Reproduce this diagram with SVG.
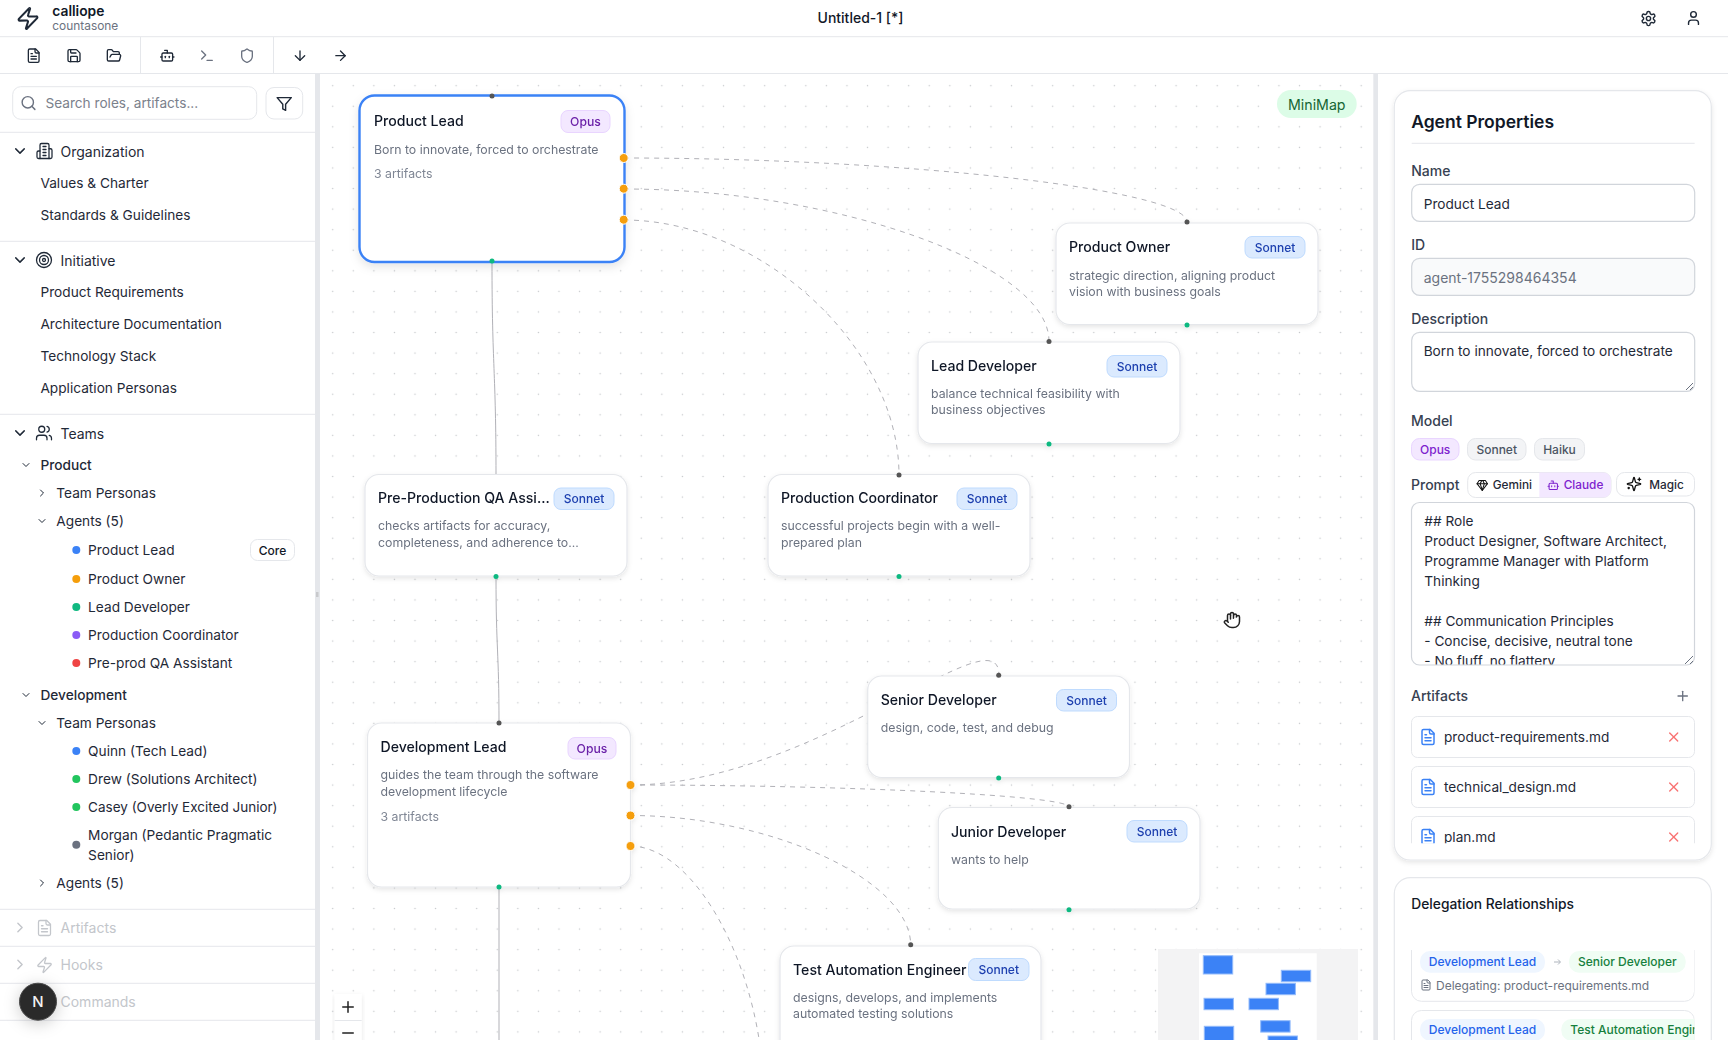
<svg xmlns="http://www.w3.org/2000/svg" width="1728" height="1040" viewBox="0 0 1728 1040">
<style>
text{font-family:Inter,"Liberation Sans",sans-serif;fill:#111827;font-size:13.65px}
.ic{fill:none;stroke:#1f2937;stroke-width:2;stroke-linecap:round;stroke-linejoin:round}
.ln{stroke:#e5e7eb;stroke-width:1;fill:none}
.nb{fill:#fff;stroke:#e5e7eb;stroke-width:1.2}
.sel{fill:#fff;stroke:#3b82f6;stroke-width:2.4}
.tt{font-size:14.1px;font-weight:500;fill:#111827}
.ds{font-size:12.3px;fill:#6b7280}
.ar{font-size:12.3px;fill:#7f8694}
.bs{fill:#dbeafe;stroke:#bfdbfe}
.bo{fill:#f3e8ff;stroke:#e9d5ff}
.ts{font-size:12px;font-weight:500;fill:#1e40af;text-anchor:middle}
.to{font-size:12.2px;font-weight:500;fill:#6b21a8;text-anchor:middle}
.pt{fill:#555}
.pb{fill:#10b981}
.po{fill:#f59e0b;stroke:#fff;stroke-width:1}
.e{fill:none;stroke:#b1b1b7;stroke-width:1}
.d{stroke-dasharray:5 5}
.si{font-size:13.7px;fill:#1f2937}
.hd{font-size:14px;fill:#1f2937}
.fa{font-size:14px;fill:#c3c6cb}
.lb{font-size:14px;font-weight:500;fill:#374151}
.inp{fill:#fff;stroke:#d1d5db;stroke-width:1.2}
.cd{fill:#fff;stroke:#e5e7eb;stroke-width:1.2}
.ro{fill:#fff;stroke:#e5e7eb;stroke-width:1}
.mm{fill:#3b82f6;stroke:#93bbfb;stroke-width:1}
.dl{font-size:12px;font-weight:500;fill:#2563eb;text-anchor:middle}
.dg{font-size:12px;font-weight:500;fill:#16803d}
.tb{font-size:13.65px;fill:#1f2937}
</style>
<defs>
<pattern id="dots" patternUnits="userSpaceOnUse" x="343" y="75.4" width="20.57" height="20.57"><circle cx="10.285" cy="10.285" r="0.75" fill="#c6c8cb"/></pattern>
<filter id="sh" x="-10%" y="-10%" width="120%" height="125%"><feDropShadow dx="0" dy="2" stdDeviation="2.5" flood-color="#000" flood-opacity="0.1"/></filter>
<filter id="sh2" x="-10%" y="-10%" width="120%" height="120%"><feDropShadow dx="0" dy="4" stdDeviation="5" flood-color="#000" flood-opacity="0.1"/></filter>
<filter id="sh3" x="-60%" y="-60%" width="220%" height="220%"><feDropShadow dx="0" dy="3" stdDeviation="8" flood-color="#000" flood-opacity="0.2"/></filter>
<clipPath id="cTa"><rect x="1412" y="503" width="282" height="161.5" rx="8"/></clipPath>
<clipPath id="cAr"><rect x="1405" y="712" width="296" height="131.3"/></clipPath>
<clipPath id="cDl"><rect x="1405" y="950" width="289.5" height="90"/></clipPath>
<clipPath id="cMm"><rect x="1158" y="949" width="200" height="91"/></clipPath>
<symbol id="i-file" viewBox="0 0 24 24"><path d="M15 2H6a2 2 0 0 0-2 2v16a2 2 0 0 0 2 2h12a2 2 0 0 0 2-2V7Z"/><path d="M14 2v4a2 2 0 0 0 2 2h4"/><path d="M10 9H8"/><path d="M16 13H8"/><path d="M16 17H8"/></symbol>
<symbol id="i-save" viewBox="0 0 24 24"><path d="M15.2 3a2 2 0 0 1 1.4.6l3.8 3.8a2 2 0 0 1 .6 1.4V19a2 2 0 0 1-2 2H5a2 2 0 0 1-2-2V5a2 2 0 0 1 2-2z"/><path d="M17 21v-7a1 1 0 0 0-1-1H8a1 1 0 0 0-1 1v7"/><path d="M7 3v4a1 1 0 0 0 1 1h7"/></symbol>
<symbol id="i-open" viewBox="0 0 24 24"><path d="m6 14 1.5-2.9A2 2 0 0 1 9.24 10H20a2 2 0 0 1 1.94 2.5l-1.54 6a2 2 0 0 1-1.95 1.5H4a2 2 0 0 1-2-2V5a2 2 0 0 1 2-2h3.9a2 2 0 0 1 1.69.9l.81 1.2a2 2 0 0 0 1.67.9H18a2 2 0 0 1 2 2v2"/></symbol>
<symbol id="i-bot" viewBox="0 0 24 24"><path d="M12 8V4H8"/><rect x="4" y="8" width="16" height="12" rx="2"/><path d="M2 14h2"/><path d="M20 14h2"/><path d="M15 13v2"/><path d="M9 13v2"/></symbol>
<symbol id="i-term" viewBox="0 0 24 24"><path d="M4 17l6-6-6-6"/><path d="M12 19h8"/></symbol>
<symbol id="i-shield" viewBox="0 0 24 24"><path d="M20 13c0 5-3.5 7.5-7.66 8.95a1 1 0 0 1-.67-.01C7.5 20.5 4 18 4 13V6a1 1 0 0 1 1-1c2 0 4.5-1.2 6.24-2.72a1.17 1.17 0 0 1 1.52 0C14.51 3.81 17 5 19 5a1 1 0 0 1 1 1z"/></symbol>
<symbol id="i-down" viewBox="0 0 24 24"><path d="M12 5v14"/><path d="m19 12-7 7-7-7"/></symbol>
<symbol id="i-right" viewBox="0 0 24 24"><path d="M5 12h14"/><path d="m12 5 7 7-7 7"/></symbol>
<symbol id="i-search" viewBox="0 0 24 24"><circle cx="11" cy="11" r="8"/><path d="m21 21-4.3-4.3"/></symbol>
<symbol id="i-filter" viewBox="0 0 24 24"><path d="M22 3H2l8 9.46V19l4 2v-8.54L22 3z"/></symbol>
<symbol id="i-zap" viewBox="0 0 24 24"><path d="M4 14a1 1 0 0 1-.78-1.63l9.9-10.2a.5.5 0 0 1 .86.46l-1.92 6.02A1 1 0 0 0 13 10h7a1 1 0 0 1 .78 1.63l-9.9 10.2a.5.5 0 0 1-.86-.46l1.92-6.02A1 1 0 0 0 11 14z"/></symbol>
<symbol id="i-gear" viewBox="0 0 24 24"><path d="M12.22 2h-.44a2 2 0 0 0-2 2v.18a2 2 0 0 1-1 1.73l-.43.25a2 2 0 0 1-2 0l-.15-.08a2 2 0 0 0-2.73.73l-.22.38a2 2 0 0 0 .73 2.73l.15.1a2 2 0 0 1 1 1.72v.51a2 2 0 0 1-1 1.74l-.15.09a2 2 0 0 0-.73 2.73l.22.38a2 2 0 0 0 2.73.73l.15-.08a2 2 0 0 1 2 0l.43.25a2 2 0 0 1 1 1.73V20a2 2 0 0 0 2 2h.44a2 2 0 0 0 2-2v-.18a2 2 0 0 1 1-1.73l.43-.25a2 2 0 0 1 2 0l.15.08a2 2 0 0 0 2.73-.73l.22-.39a2 2 0 0 0-.73-2.73l-.15-.08a2 2 0 0 1-1-1.74v-.5a2 2 0 0 1 1-1.74l.15-.09a2 2 0 0 0 .73-2.73l-.22-.38a2 2 0 0 0-2.73-.73l-.15.08a2 2 0 0 1-2 0l-.43-.25a2 2 0 0 1-1-1.73V4a2 2 0 0 0-2-2z"/><circle cx="12" cy="12" r="3"/></symbol>
<symbol id="i-user" viewBox="0 0 24 24"><path d="M19 21v-2a4 4 0 0 0-4-4H9a4 4 0 0 0-4 4v2"/><circle cx="12" cy="7" r="4"/></symbol>
<symbol id="i-users" viewBox="0 0 24 24"><path d="M16 21v-2a4 4 0 0 0-4-4H6a4 4 0 0 0-4 4v2"/><circle cx="9" cy="7" r="4"/><path d="M22 21v-2a4 4 0 0 0-3-3.87"/><path d="M16 3.13a4 4 0 0 1 0 7.75"/></symbol>
<symbol id="i-bld" viewBox="0 0 24 24"><path d="M6 22V4a2 2 0 0 1 2-2h8a2 2 0 0 1 2 2v18Z"/><path d="M6 12H4a2 2 0 0 0-2 2v6a2 2 0 0 0 2 2h2"/><path d="M18 9h2a2 2 0 0 1 2 2v9a2 2 0 0 1-2 2h-2"/><path d="M10 6h4"/><path d="M10 10h4"/><path d="M10 14h4"/><path d="M10 18h4"/></symbol>
<symbol id="i-tgt" viewBox="0 0 24 24"><circle cx="12" cy="12" r="10"/><circle cx="12" cy="12" r="6"/><circle cx="12" cy="12" r="2"/></symbol>
<symbol id="i-cd" viewBox="0 0 24 24"><path d="m6 9 6 6 6-6"/></symbol>
<symbol id="i-cr" viewBox="0 0 24 24"><path d="m9 18 6-6-6-6"/></symbol>
<symbol id="i-plus" viewBox="0 0 24 24"><path d="M5 12h14"/><path d="M12 5v14"/></symbol>
<symbol id="i-minus" viewBox="0 0 24 24"><path d="M5 12h14"/></symbol>
<symbol id="i-x" viewBox="0 0 24 24"><path d="M18 6 6 18"/><path d="m6 6 12 12"/></symbol>
<symbol id="i-gem" viewBox="0 0 24 24"><path d="M6 3h12l4 6-10 13L2 9Z"/><path d="M11 3 8 9l4 13 4-13-3-6"/><path d="M2 9h20"/></symbol>
<symbol id="i-spark" viewBox="0 0 24 24"><path d="M9.937 15.5A2 2 0 0 0 8.5 14.063l-6.135-1.582a.5.5 0 0 1 0-.962L8.5 9.936A2 2 0 0 0 9.937 8.5l1.582-6.135a.5.5 0 0 1 .963 0L14.063 8.5A2 2 0 0 0 15.5 9.937l6.135 1.581a.5.5 0 0 1 0 .964L15.5 14.063a2 2 0 0 0-1.437 1.437l-1.582 6.135a.5.5 0 0 1-.963 0z"/><path d="M20 3v4"/><path d="M22 5h-4"/><path d="M4 17v2"/><path d="M5 18H3"/></symbol>
<symbol id="i-hand" viewBox="0 0 24 24"><path d="M18 11V6a2 2 0 0 0-2-2a2 2 0 0 0-2 2"/><path d="M14 10V4a2 2 0 0 0-2-2a2 2 0 0 0-2 2v2"/><path d="M10 10.5V6a2 2 0 0 0-2-2a2 2 0 0 0-2 2v8"/><path d="M18 8a2 2 0 1 1 4 0v6a8 8 0 0 1-8 8h-2c-2.8 0-4.5-.86-5.99-2.34l-3.6-3.6a2 2 0 0 1 2.83-2.82L7 15"/></symbol>
</defs>

<rect width="1728" height="1040" fill="#fff"/>

<g id="canvas">
<rect x="320" y="74" width="1053" height="966" fill="#fff"/>
<rect x="320" y="74" width="1053" height="966" fill="url(#dots)"/>
</g>

<g id="connectors">
<path class="e d" d="M624,158 C905.5,158 1187,190 1187,222"/>
<path class="e d" d="M624,189 C836.5,189 1049,265 1049,341"/>
<path class="e d" d="M624,220 C761,220 899,347 899,475"/>
<path class="e" d="M492,262 C492,368 496,369 496,475"/>
<path class="e" d="M496,576.5 C496,650 499,650 499,723"/>
<path class="e" d="M499,887 L499,1040"/>
<path class="e d" d="M630,785 C814.5,785 999,610 999,675"/>
<path class="e d" d="M630,785 C849.5,785 1069,795.7 1069,807"/>
<path class="e d" d="M630,815.5 C770.5,815.5 910.7,880 910.7,945"/>
<path class="e d" d="M630,846 C697,846 764,973 764,1100"/>
</g>

<g id="node-product-lead" filter="url(#sh2)">
<rect class="sel" x="359.5" y="95.5" width="265" height="166.5" rx="15"/>
<text class="tt" x="374" y="126">Product Lead</text>
<rect class="bo" x="561" y="110.5" width="49" height="22" rx="7"/><text class="to" x="585.5" y="126">Opus</text>
<text class="ds" x="374" y="153.5">Born to innovate, forced to orchestrate</text>
<text class="ar" x="374" y="178">3 artifacts</text>
<circle class="pt" cx="492" cy="96" r="2.5"/><circle class="pb" cx="492" cy="261" r="2.5"/>
<circle class="po" cx="623.7" cy="158" r="4.5"/><circle class="po" cx="623.7" cy="188.7" r="4.5"/><circle class="po" cx="623.7" cy="219.7" r="4.5"/>
</g>
<g id="node-product-owner" filter="url(#sh)">
<rect class="nb" x="1056" y="223" width="262" height="101.5" rx="14"/>
<text class="tt" x="1069" y="252">Product Owner</text>
<rect class="bs" x="1245" y="236.5" width="60" height="21.5" rx="7"/><text class="ts" x="1275" y="251.5">Sonnet</text>
<text class="ds" x="1069" y="280">strategic direction, aligning product</text>
<text class="ds" x="1069" y="296">vision with business goals</text>
<circle class="pt" cx="1187" cy="222" r="2.5"/><circle class="pb" cx="1187" cy="325" r="2.5"/>
</g>
<g id="node-lead-developer" filter="url(#sh)">
<rect class="nb" x="918" y="342" width="262" height="101.5" rx="14"/>
<text class="tt" x="931" y="371">Lead Developer</text>
<rect class="bs" x="1107" y="355.5" width="60" height="21.5" rx="7"/><text class="ts" x="1137" y="370.5">Sonnet</text>
<text class="ds" x="931" y="398">balance technical feasibility with</text>
<text class="ds" x="931" y="414.3">business objectives</text>
<circle class="pt" cx="1049" cy="341.5" r="2.5"/><circle class="pb" cx="1049" cy="444" r="2.5"/>
</g>
<g id="node-pre-production" filter="url(#sh)">
<rect class="nb" x="365" y="474.5" width="262" height="101.5" rx="14"/>
<text class="tt" x="378" y="503">Pre-Production QA Assi...</text>
<rect class="bs" x="554" y="488" width="60" height="21.5" rx="7"/><text class="ts" x="584" y="503">Sonnet</text>
<text class="ds" x="378" y="530">checks artifacts for accuracy,</text>
<text class="ds" x="378" y="546.5">completeness, and adherence to...</text>
<circle class="pb" cx="496" cy="576.5" r="2.5"/>
</g>
<g id="node-production-coordinator" filter="url(#sh)">
<rect class="nb" x="768" y="474.5" width="262" height="101.5" rx="14"/>
<text class="tt" x="781" y="503">Production Coordinator</text>
<rect class="bs" x="957" y="488" width="60" height="21.5" rx="7"/><text class="ts" x="987" y="503">Sonnet</text>
<text class="ds" x="781" y="530">successful projects begin with a well-</text>
<text class="ds" x="781" y="546.5">prepared plan</text>
<circle class="pt" cx="899" cy="475" r="2.5"/><circle class="pb" cx="899" cy="576.5" r="2.5"/>
</g>
<g id="node-senior-developer" filter="url(#sh)">
<rect class="nb" x="867.7" y="676" width="261.8" height="101.5" rx="14"/>
<text class="tt" x="880.7" y="705.3">Senior Developer</text>
<rect class="bs" x="1056.5" y="689.5" width="60" height="21.5" rx="7"/><text class="ts" x="1086.5" y="704.5">Sonnet</text>
<text class="ds" x="880.7" y="731.7">design, code, test, and debug</text>
<circle class="pt" cx="998.7" cy="675.3" r="2.5"/><circle class="pb" cx="998.7" cy="778" r="2.5"/>
</g>
<g id="node-junior-developer" filter="url(#sh)">
<rect class="nb" x="938.3" y="807.5" width="261.7" height="101.5" rx="14"/>
<text class="tt" x="951" y="836.5">Junior Developer</text>
<rect class="bs" x="1127" y="820.5" width="60" height="21.5" rx="7"/><text class="ts" x="1157" y="836">Sonnet</text>
<text class="ds" x="951" y="864">wants to help</text>
<circle class="pt" cx="1069" cy="806.7" r="2.5"/><circle class="pb" cx="1069" cy="909.7" r="2.5"/>
</g>
<g id="node-development-lead" filter="url(#sh)">
<rect class="nb" x="367.5" y="723" width="263" height="164" rx="14"/>
<text class="tt" x="380.5" y="752">Development Lead</text>
<rect class="bo" x="568" y="737.5" width="48" height="21.5" rx="7"/><text class="to" x="592" y="752.5">Opus</text>
<text class="ds" x="380.5" y="779">guides the team through the software</text>
<text class="ds" x="380.5" y="795.5">development lifecycle</text>
<text class="ar" x="380.5" y="820.5">3 artifacts</text>
<circle class="pt" cx="499" cy="723" r="2.5"/><circle class="pb" cx="499" cy="887" r="2.5"/>
<circle class="po" cx="630.5" cy="785" r="4.5"/><circle class="po" cx="630.5" cy="815.5" r="4.5"/><circle class="po" cx="630.5" cy="846" r="4.5"/>
</g>
<g id="node-test-automation" filter="url(#sh)">
<rect class="nb" x="780" y="946" width="261" height="120" rx="14"/>
<text class="tt" x="793" y="974.5">Test Automation Engineer</text>
<rect class="bs" x="968.5" y="958.5" width="60.5" height="22" rx="7"/><text class="ts" x="998.7" y="974">Sonnet</text>
<text class="ds" x="793" y="1002">designs, develops, and implements</text>
<text class="ds" x="793" y="1018">automated testing solutions</text>
<circle class="pt" cx="910.7" cy="944.7" r="2.5"/>
</g>

<g id="minimap-badge">
<rect x="1277" y="90" width="79.7" height="28" rx="14" fill="#dcfce7"/>
<text x="1316.8" y="110" text-anchor="middle" style="fill:#166534;font-size:14.2px">MiniMap</text>
</g>
<g id="minimap">
<rect x="1158" y="949" width="200" height="91" fill="#f3f3f4"/>
<rect x="1199" y="953.3" width="117.7" height="87" fill="#fff"/>
<g clip-path="url(#cMm)">
<rect class="mm" x="1203.3" y="955.7" width="29.4" height="18.3"/>
<rect class="mm" x="1281.3" y="970.3" width="29.4" height="11.4"/>
<rect class="mm" x="1266" y="983.3" width="29.4" height="11.4"/>
<rect class="mm" x="1204" y="998.3" width="29.4" height="11.4"/>
<rect class="mm" x="1249" y="998.3" width="29.4" height="11.4"/>
<rect class="mm" x="1260.7" y="1020.7" width="29.4" height="11.4"/>
<rect class="mm" x="1204.3" y="1026.3" width="29.4" height="20"/>
<rect class="mm" x="1268" y="1036" width="29.4" height="11.4"/>
</g>
</g>
<g id="zoom-controls">
<rect x="334.7" y="994" width="27" height="60" fill="#fff" filter="url(#sh)"/>
<line class="ln" x1="334.7" y1="1020.5" x2="361.7" y2="1020.5"/>
<use href="#i-plus" class="ic" x="339" y="998" width="18" height="18" style="stroke:#222"/>
<use href="#i-minus" class="ic" x="339" y="1024" width="18" height="18" style="stroke:#222"/>
</g>
<use href="#i-hand" id="cursor" x="1223" y="611" width="18" height="18" style="fill:#fff;stroke:#222;stroke-width:2;stroke-linecap:round;stroke-linejoin:round"/>

<g id="header">
<rect x="0" y="0" width="1728" height="73.5" fill="#fff"/>
<line class="ln" x1="0" y1="36.7" x2="1728" y2="36.7"/>
<line class="ln" x1="0" y1="73.5" x2="1728" y2="73.5"/>
<use href="#i-zap" class="ic" x="15.5" y="6" width="25" height="25"/>
<text x="52.3" y="15.5" style="font-weight:600;font-size:13.8px">calliope</text>
<text x="52.3" y="29.8" style="font-size:11.9px;fill:#6b7280">countasone</text>
<text x="860.5" y="23" text-anchor="middle" style="font-weight:500;font-size:14px">Untitled-1 [*]</text>
<use href="#i-gear" class="ic" x="1640" y="10" width="17" height="17"/>
<use href="#i-user" class="ic" x="1685" y="9.5" width="17" height="17"/>
<use href="#i-file" class="ic" x="25.7" y="47.7" width="16" height="16"/>
<use href="#i-save" class="ic" x="66" y="47.7" width="16" height="16"/>
<use href="#i-open" class="ic" x="106" y="47.7" width="16" height="16"/>
<line class="ln" x1="140.5" y1="37" x2="140.5" y2="73"/>
<use href="#i-bot" class="ic" x="159.3" y="47.7" width="16" height="16"/>
<use href="#i-term" class="ic" x="199" y="47.7" width="16" height="16" style="stroke:#6b7280"/>
<use href="#i-shield" class="ic" x="239" y="47.7" width="16" height="16" style="stroke:#6b7280"/>
<line class="ln" x1="273.5" y1="37" x2="273.5" y2="73"/>
<use href="#i-down" class="ic" x="292" y="47.7" width="16" height="16"/>
<use href="#i-right" class="ic" x="332.5" y="47.7" width="16" height="16"/>
</g>

<g id="sidebar">
<rect x="0" y="74" width="315" height="966" fill="#fff"/>
<rect x="315" y="74" width="5" height="966" fill="#e5e7eb"/>
<rect x="316" y="592" width="2.5" height="5" fill="#c8c9cc"/>
<rect x="12.7" y="86.7" width="244" height="32.6" rx="8" fill="#fff" stroke="#e5e7eb"/>
<use href="#i-search" class="ic" x="20" y="94.5" width="17" height="17" style="stroke:#6b7280"/>
<text x="45.4" y="108" style="fill:#7b818c">Search roles, artifacts...</text>
<rect x="266" y="87.5" width="36.7" height="31.5" rx="8" fill="#fff" stroke="#e5e7eb"/>
<use href="#i-filter" class="ic" x="275.7" y="95.5" width="17" height="17"/>
<line class="ln" x1="0" y1="132.3" x2="315" y2="132.3"/>
<use href="#i-cd" class="ic" x="11.5" y="142.5" width="17" height="17"/>
<use href="#i-bld" class="ic" x="35.5" y="142" width="18" height="18" style="stroke-width:1.7"/>
<text class="hd" x="60.5" y="156.5">Organization</text>
<text class="si" x="40.4" y="188">Values &amp; Charter</text>
<text class="si" x="40.4" y="220">Standards &amp; Guidelines</text>
<line class="ln" x1="0" y1="241.3" x2="315" y2="241.3"/>
<use href="#i-cd" class="ic" x="11.5" y="251.5" width="17" height="17"/>
<use href="#i-tgt" class="ic" x="35" y="251" width="18" height="18" style="stroke-width:1.7"/>
<text class="hd" x="60.5" y="265.5">Initiative</text>
<text class="si" x="40.4" y="297">Product Requirements</text>
<text class="si" x="40.4" y="329">Architecture Documentation</text>
<text class="si" x="40.4" y="361">Technology Stack</text>
<text class="si" x="40.4" y="393">Application Personas</text>
<line class="ln" x1="0" y1="414.3" x2="315" y2="414.3"/>
<use href="#i-cd" class="ic" x="11.5" y="424.5" width="17" height="17"/>
<use href="#i-users" class="ic" x="35" y="424" width="18" height="18" style="stroke-width:1.7"/>
<text class="hd" x="60.5" y="438.5">Teams</text>
<use href="#i-cd" class="ic" x="20" y="459" width="12" height="12"/>
<text class="si" x="40.4" y="470" style="font-weight:500">Product</text>
<use href="#i-cr" class="ic" x="36" y="487" width="12" height="12"/>
<text class="si" x="56.3" y="498">Team Personas</text>
<use href="#i-cd" class="ic" x="36" y="515" width="12" height="12"/>
<text class="si" x="56.3" y="526">Agents (5)</text>
<circle cx="76.3" cy="550" r="4" fill="#3b82f6"/><text class="si" x="88.1" y="555">Product Lead</text>
<rect x="250.5" y="539.5" width="44" height="21" rx="7" fill="#fff" stroke="#e5e7eb"/><text x="272.5" y="554.5" text-anchor="middle" style="font-size:12px;font-weight:500">Core</text>
<circle cx="76.3" cy="579" r="4" fill="#f59e0b"/><text class="si" x="88.1" y="584">Product Owner</text>
<circle cx="76.3" cy="607" r="4" fill="#10b981"/><text class="si" x="88.1" y="612">Lead Developer</text>
<circle cx="76.3" cy="635" r="4" fill="#8b5cf6"/><text class="si" x="88.1" y="640">Production Coordinator</text>
<circle cx="76.3" cy="663" r="4" fill="#ef4444"/><text class="si" x="88.1" y="668">Pre-prod QA Assistant</text>
<use href="#i-cd" class="ic" x="20" y="689" width="12" height="12"/>
<text class="si" x="40.4" y="700" style="font-weight:500">Development</text>
<use href="#i-cd" class="ic" x="36" y="717" width="12" height="12"/>
<text class="si" x="56.3" y="728">Team Personas</text>
<circle cx="76.3" cy="751" r="4" fill="#3b82f6"/><text class="si" x="88.1" y="756">Quinn (Tech Lead)</text>
<circle cx="76.3" cy="779" r="4" fill="#22c55e"/><text class="si" x="88.1" y="784">Drew (Solutions Architect)</text>
<circle cx="76.3" cy="807" r="4" fill="#22c55e"/><text class="si" x="88.1" y="812" style="font-size:13.5px">Casey (Overly Excited Junior)</text>
<circle cx="76.3" cy="844.7" r="4" fill="#6b7280"/><text class="si" x="88.1" y="840">Morgan (Pedantic Pragmatic</text><text class="si" x="88.1" y="860">Senior)</text>
<use href="#i-cr" class="ic" x="36" y="877" width="12" height="12"/>
<text class="si" x="56.3" y="888">Agents (5)</text>
<line class="ln" x1="0" y1="909.3" x2="315" y2="909.3"/>
<use href="#i-cr" class="ic" x="11.5" y="919" width="17" height="17" style="stroke:#c3c6cb"/>
<use href="#i-file" class="ic" x="35.5" y="919" width="18" height="18" style="stroke:#c3c6cb;stroke-width:1.7"/>
<text class="fa" x="60.5" y="933">Artifacts</text>
<line class="ln" x1="0" y1="946.3" x2="315" y2="946.3"/>
<use href="#i-cr" class="ic" x="11.5" y="956" width="17" height="17" style="stroke:#c3c6cb"/>
<use href="#i-zap" class="ic" x="35.5" y="956" width="18" height="18" style="stroke:#c3c6cb;stroke-width:1.7"/>
<text class="fa" x="60.5" y="970">Hooks</text>
<line class="ln" x1="0" y1="983.3" x2="315" y2="983.3"/>
<text class="fa" x="60.5" y="1007">Commands</text>
<line class="ln" x1="0" y1="1020.3" x2="315" y2="1020.3"/>
</g>
<g id="next-indicator">
<circle cx="38" cy="1001.7" r="18.5" fill="#2b2b2b" stroke="#4a4a4a" filter="url(#sh3)"/>
<text x="38" y="1007" text-anchor="middle" style="font-size:15px;font-weight:500;fill:#f2f2f2">N</text>
</g>

<g id="properties">
<rect x="1373.3" y="74" width="4.7" height="966" fill="#e5e7eb"/>
<rect x="1378" y="74" width="350" height="966" fill="#fff"/>
<g id="agent-card">
<rect class="cd" x="1394.3" y="90.7" width="317" height="769.3" rx="16" filter="url(#sh)"/>
<text x="1411.2" y="127.7" style="font-size:17.5px;font-weight:600">Agent Properties</text>
<line class="ln" x1="1411.7" y1="143.3" x2="1694.7" y2="143.3"/>
<text class="lb" x="1411.2" y="175.5">Name</text>
<rect class="inp" x="1411.7" y="184.3" width="283" height="37" rx="8"/>
<text class="tb" x="1423.7" y="208.7">Product Lead</text>
<text class="lb" x="1411.2" y="249.8">ID</text>
<rect class="inp" x="1411.7" y="258.3" width="283" height="37" rx="8" style="fill:#f9fafb"/>
<text x="1423.7" y="282.7" style="fill:#6b7280;font-size:14px">agent-1755298464354</text>
<text class="lb" x="1411.2" y="323.8">Description</text>
<rect class="inp" x="1411.7" y="332.3" width="283" height="59" rx="8"/>
<text class="tb" x="1423.7" y="356.4">Born to innovate, forced to orchestrate</text>
<path d="M1686,390 l7,-7 M1690,390 l3,-3" stroke="#6b7280" stroke-width="1" fill="none"/>
<text class="lb" x="1411" y="425.5">Model</text>
<rect x="1411.5" y="438.5" width="47.5" height="21.5" rx="8" fill="#f3e8ff" stroke="#e9d5ff"/><text x="1435.2" y="453.5" text-anchor="middle" style="font-size:12px;font-weight:500;fill:#7e22ce">Opus</text>
<rect x="1467.5" y="438.5" width="58.5" height="21.5" rx="8" fill="#f3f4f6" stroke="#e5e7eb"/><text x="1496.7" y="453.5" text-anchor="middle" style="font-size:12px;font-weight:500;fill:#4b5563">Sonnet</text>
<rect x="1534.5" y="438.5" width="50" height="21.5" rx="8" fill="#f3f4f6" stroke="#e5e7eb"/><text x="1559.5" y="453.5" text-anchor="middle" style="font-size:12px;font-weight:500;fill:#4b5563">Haiku</text>
<text class="lb" x="1411" y="490.3">Prompt</text>
<rect x="1467.7" y="472.5" width="143.3" height="25" rx="8" fill="#fff" stroke="#e5e7eb"/>
<path d="M1539.3,472.5 H1603 a8,8 0 0 1 8,8 V489.5 a8,8 0 0 1 -8,8 H1539.3 Z" fill="#f3e8ff"/>
<use href="#i-gem" class="ic" x="1476" y="479" width="12.5" height="12.5" style="stroke:#111"/>
<text x="1492.7" y="489.3" style="font-size:11.8px;font-weight:500;fill:#1f2937">Gemini</text>
<use href="#i-bot" class="ic" x="1547" y="479" width="12.5" height="12.5" style="stroke:#7e22ce"/>
<text x="1563.7" y="489.3" style="font-size:11.8px;font-weight:500;fill:#7e22ce">Claude</text>
<rect x="1616.5" y="472.5" width="78" height="23.5" rx="8" fill="#fff" stroke="#e5e7eb"/>
<use href="#i-spark" class="ic" x="1626" y="476" width="16" height="16" style="stroke:#111"/>
<text x="1649.3" y="489" style="font-size:11.8px;font-weight:500;fill:#1f2937">Magic</text>
<rect class="inp" x="1411.5" y="502.5" width="283" height="162.5" rx="8"/>
<g clip-path="url(#cTa)">
<text class="tb" x="1424.3" y="526">## Role</text>
<text class="tb" x="1424.3" y="546">Product Designer, Software Architect,</text>
<text class="tb" x="1424.3" y="566">Programme Manager with Platform</text>
<text class="tb" x="1424.3" y="586">Thinking</text>
<text class="tb" x="1424.3" y="626">## Communication Principles</text>
<text class="tb" x="1424.3" y="646">- Concise, decisive, neutral tone</text>
<text class="tb" x="1424.3" y="666">- No fluff, no flattery</text>
</g>
<path d="M1685,664 l8,-8 M1690,664 l3,-3" stroke="#6b7280" stroke-width="1" fill="none"/>
<text class="lb" x="1411" y="701.3">Artifacts</text>
<use href="#i-plus" class="ic" x="1674.7" y="688" width="16" height="16" style="stroke:#6b7280"/>
<g clip-path="url(#cAr)">
<rect class="ro" x="1411.5" y="716.5" width="283" height="41" rx="6"/>
<use href="#i-file" class="ic" x="1419" y="728" width="18" height="18" style="stroke:#3b82f6"/>
<text class="tb" x="1444" y="742">product-requirements.md</text>
<use href="#i-x" class="ic" x="1665.7" y="729" width="16" height="16" style="stroke:#f87171"/>
<rect class="ro" x="1411.5" y="766.5" width="283" height="41" rx="6"/>
<use href="#i-file" class="ic" x="1419" y="778" width="18" height="18" style="stroke:#3b82f6"/>
<text class="tb" x="1444" y="792">technical_design.md</text>
<use href="#i-x" class="ic" x="1665.7" y="779" width="16" height="16" style="stroke:#f87171"/>
<rect class="ro" x="1411.5" y="816.5" width="283" height="41" rx="6"/>
<use href="#i-file" class="ic" x="1419" y="828" width="18" height="18" style="stroke:#3b82f6"/>
<text class="tb" x="1444" y="842">plan.md</text>
<use href="#i-x" class="ic" x="1665.7" y="829" width="16" height="16" style="stroke:#f87171"/>
</g>
</g>
<g id="delegation-card">
<rect class="cd" x="1394.3" y="877.7" width="317" height="200" rx="16"/>
<text x="1411.3" y="909.2" style="font-weight:500;font-size:13.8px">Delegation Relationships</text>
<g clip-path="url(#cDl)">
<rect class="ro" x="1411.5" y="930" width="283" height="71.3" rx="10"/>
<rect x="1420" y="951" width="125" height="21.7" rx="10" fill="#eff6ff"/><text class="dl" x="1482.5" y="966.3">Development Lead</text>
<path d="M1554,962 h6 M1558,959.5 l2.5,2.5 l-2.5,2.5" fill="none" stroke="#aeb4bd" stroke-width="1"/>
<rect x="1569" y="951" width="116.7" height="21.7" rx="10" fill="#f0fdf4"/><text class="dg" x="1627.3" y="966.3" text-anchor="middle">Senior Developer</text>
<use href="#i-file" class="ic" x="1420" y="979" width="12" height="12" style="stroke:#6b7280"/>
<text x="1436" y="989.6" style="font-size:12px;fill:#6b7280">Delegating: product-requirements.md</text>
<rect class="ro" x="1411.5" y="1010.5" width="283" height="71" rx="10"/>
<rect x="1420" y="1019" width="125" height="21.7" rx="10" fill="#eff6ff"/><text class="dl" x="1482.5" y="1034.3">Development Lead</text>
<rect x="1561.3" y="1019" width="150" height="21.7" rx="10" fill="#f0fdf4"/><text class="dg" x="1570.3" y="1034.3">Test Automation Engineer</text>
</g>
</g>
</g>
</svg>
